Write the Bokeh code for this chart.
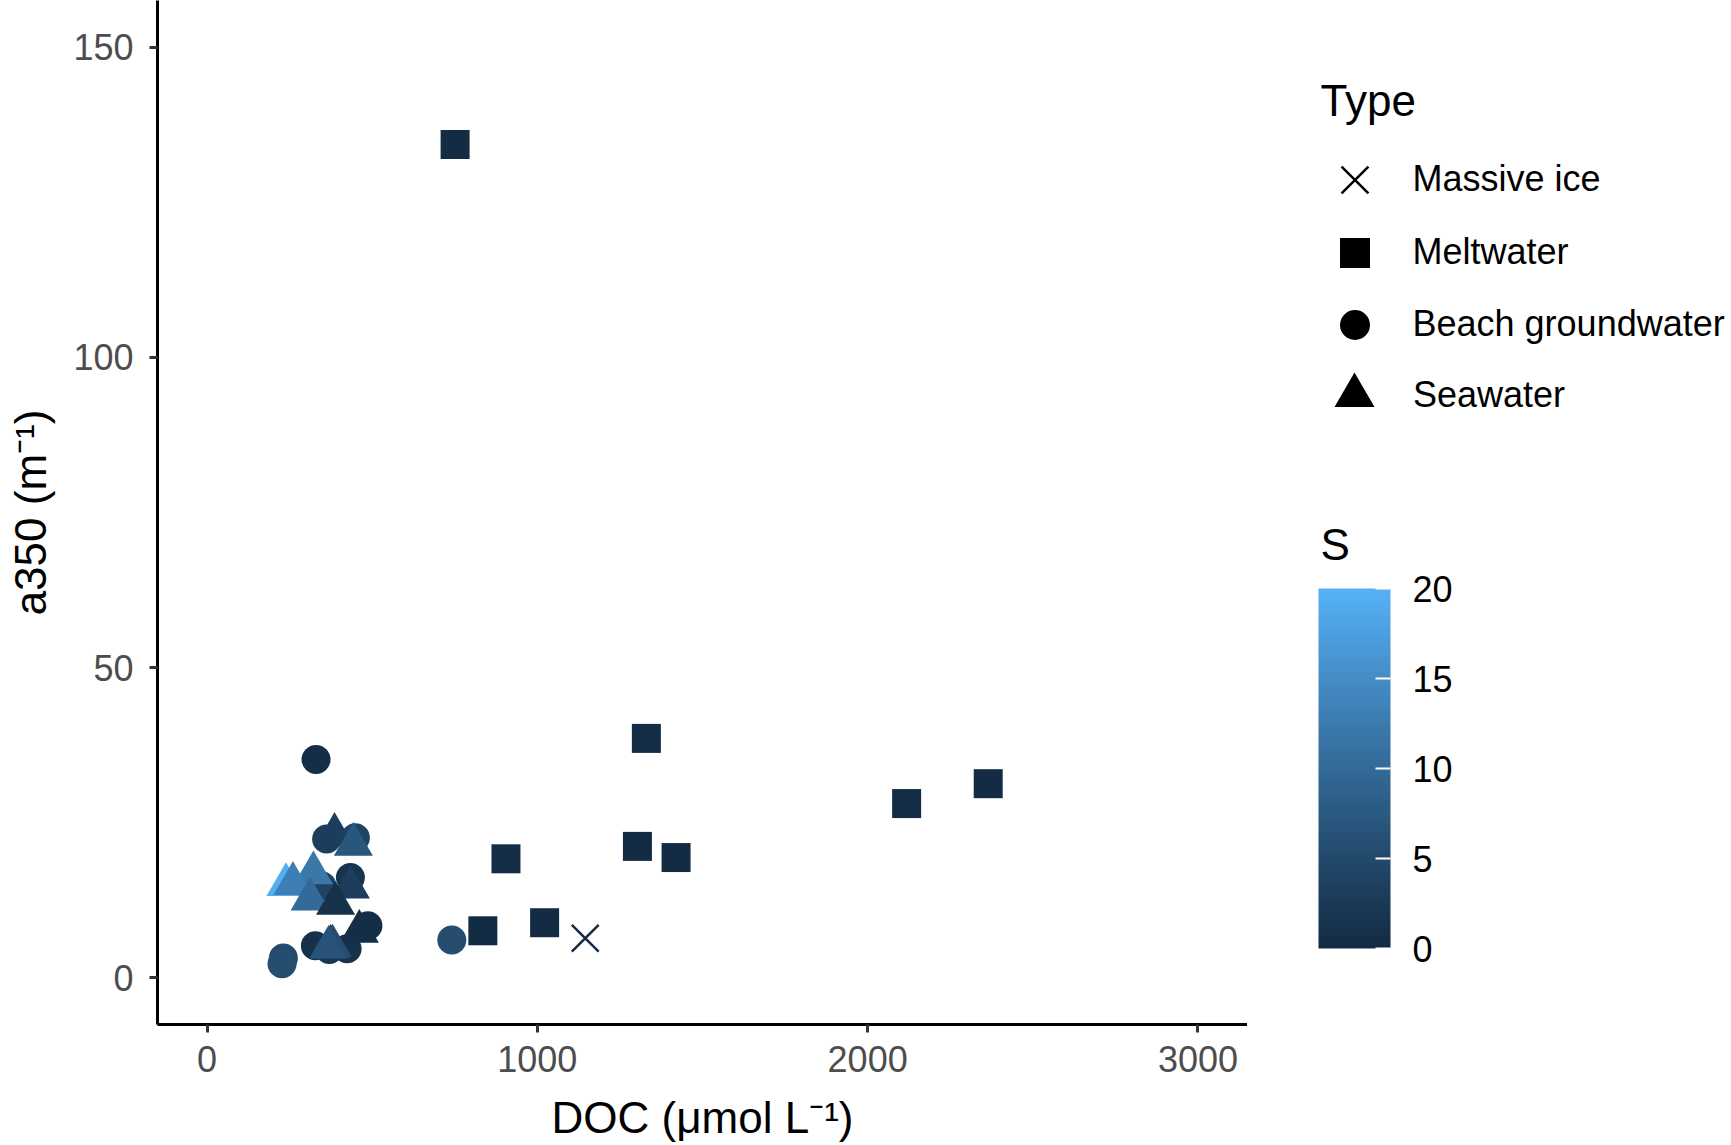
from bokeh.plotting import figure
from bokeh.resources import INLINE
from bokeh.embed import file_html
from bokeh.layouts import row
from bokeh.models import (ColumnDataSource, Range1d, FixedTicker, Legend, LegendItem,
                          ColorBar, LinearColorMapper, Label)

# ---- data ----
ice_doc = [1145]
ice_a350 = [6.4]
ice_s = [0.0]

melt_doc = [751, 1330, 1303, 1420, 905, 835, 1022, 2118, 2365]
melt_a350 = [134.3, 38.6, 21.2, 19.4, 19.2, 7.6, 8.9, 28.1, 31.3]
melt_s = [0.2, 0.3, 0.2, 0.2, 0.3, 0.2, 0.2, 0.3, 0.2]

gw_doc = [330, 741, 231, 227, 362, 449, 348, 434, 487, 328, 424, 370]
gw_a350 = [35.2, 6.1, 3.2, 2.3, 22.4, 22.6, 14.8, 16.2, 8.4, 5.2, 4.7, 4.6]
gw_s = [0.5, 5.5, 5.0, 5.5, 3.0, 4.0, 4.0, 1.5, 0.5, 1.0, 1.0, 2.0]

sw_doc = [386, 443, 322, 239, 260, 434, 312, 389, 461, 374, 380, 368]
sw_a350 = [23.1, 21.5, 16.9, 15.0, 15.2, 14.6, 12.7, 12.0, 7.5, 5.1, 5.1, 4.9]
sw_s = [3.0, 7.0, 12.0, 19.5, 13.0, 3.0, 10.0, 1.0, 0.5, 6.0, 5.5, 6.5]

x_ticks = [0, 1000, 2000, 3000]
y_ticks = [0, 50, 100, 150]
s_ticks = [0, 5, 10, 15, 20]
type_labels = ["Massive ice", "Meltwater", "Beach groundwater", "Seawater"]
type_markers = ["x", "square", "circle", "triangle"]


# ggplot-like gradient #132B43 -> #56B1F7, interpolated in Lab
def _to_lab(h):
    rgb = [int(h[i:i + 2], 16) / 255 for i in (1, 3, 5)]
    lin = [c / 12.92 if c <= 0.04045 else ((c + 0.055) / 1.055) ** 2.4 for c in rgb]
    X = (0.4124 * lin[0] + 0.3576 * lin[1] + 0.1805 * lin[2]) / 0.95047
    Y = 0.2126 * lin[0] + 0.7152 * lin[1] + 0.0722 * lin[2]
    Z = (0.0193 * lin[0] + 0.1192 * lin[1] + 0.9505 * lin[2]) / 1.08883
    f = lambda t: t ** (1 / 3) if t > (6 / 29) ** 3 else t / (3 * (6 / 29) ** 2) + 4 / 29
    return 116 * f(Y) - 16, 500 * (f(X) - f(Y)), 200 * (f(Y) - f(Z))


def _from_lab(L, a, b):
    fy = (L + 16) / 116
    finv = lambda t: t ** 3 if t > 6 / 29 else 3 * (6 / 29) ** 2 * (t - 4 / 29)
    X, Y, Z = finv(fy + a / 500) * 0.95047, finv(fy), finv(fy - b / 200) * 1.08883
    lin = [3.2406 * X - 1.5372 * Y - 0.4986 * Z,
           -0.9689 * X + 1.8758 * Y + 0.0415 * Z,
           0.0557 * X - 0.2040 * Y + 1.0570 * Z]
    out = []
    for c in lin:
        c = 12.92 * c if c <= 0.0031308 else 1.055 * max(c, 0) ** (1 / 2.4) - 0.055
        out.append(min(255, max(0, round(c * 255))))
    return "#%02x%02x%02x" % tuple(out)


lo, hi = _to_lab("#132B43"), _to_lab("#56B1F7")
palette = [_from_lab(*[lo[k] + (hi[k] - lo[k]) * i / 255 for k in range(3)]) for i in range(256)]
mapper = LinearColorMapper(palette=palette, low=0, high=20)
cmap = {"field": "S", "transform": mapper}

FONT = "Liberation Sans"

p = figure(frame_width=1090, frame_height=1024, min_border_left=157, min_border_right=0,
           min_border_top=0, min_border_bottom=121, output_backend="svg",
           toolbar_location=None, x_range=Range1d(-150, 3150), y_range=Range1d(-7.5, 157.5))
p.outline_line_color = None
p.grid.visible = False

p.xaxis.axis_label = "DOC (μmol L⁻¹)"
p.yaxis.axis_label = "a350 (m⁻¹)"
p.xaxis.ticker = FixedTicker(ticks=x_ticks)
p.yaxis.ticker = FixedTicker(ticks=y_ticks)
for ax in (p.xaxis, p.yaxis):
    ax.axis_line_color = "black"
    ax.axis_line_width = 3
    ax.major_tick_line_color = "#333333"
    ax.major_tick_line_width = 3
    ax.major_tick_out = 8
    ax.major_tick_in = 0
    ax.minor_tick_line_color = None
    ax.major_label_text_font = FONT
    ax.major_label_text_font_size = "36px"
    ax.major_label_text_color = "#4D4D4D"
    ax.axis_label_text_font = FONT
    ax.axis_label_text_font_size = "44px"
    ax.axis_label_text_font_style = "normal"
    ax.axis_label_text_color = "black"
p.xaxis.major_label_standoff = 13
p.yaxis.major_label_standoff = 16
p.xaxis.axis_label_standoff = 18
p.yaxis.axis_label_standoff = 15

ice = ColumnDataSource(dict(x=ice_doc, y=ice_a350, S=ice_s))
melt = ColumnDataSource(dict(x=melt_doc, y=melt_a350, S=melt_s))
gw = ColumnDataSource(dict(x=gw_doc, y=gw_a350, S=gw_s))
sw = ColumnDataSource(dict(x=sw_doc, y=sw_a350, S=sw_s))

p.scatter("x", "y", source=ice, marker="x", size=38, line_color=cmap, line_width=2.5)
p.scatter("x", "y", source=melt, marker="square", size=29, fill_color=cmap, line_color=None)
p.scatter("x", "y", source=gw, marker="circle", size=29, fill_color=cmap, line_color=None)
p.scatter("x", "y", source=sw, marker="triangle", size=39, fill_color=cmap, line_color=None)

# side panel holding the keys; in the row its frame lines up with the main frame (1024 px tall)
q = figure(width=484, height=1145, min_border=0, output_backend="svg", toolbar_location=None,
           x_range=Range1d(0, 1), y_range=Range1d(0, 1), x_axis_location=None, y_axis_location=None)
q.grid.visible = False
q.outline_line_color = None

q.add_layout(Label(x=73, y=924, x_units="screen", y_units="screen", text="Type",
                   text_font=FONT, text_font_size="44px", text_color="black",
                   text_baseline="alphabetic"))

# one small legend per shape, so each key can get the size of the reference
nan = float("nan")
key_box = [95, 75, 75, 100]        # legend glyph box; the marker is 0.4 of it
key_mid = [179, 252, 324, 395]     # row centres, px from the top
for lab, mk, g, mid in zip(type_labels, type_markers, key_box, key_mid):
    if mk == "x":
        r = q.scatter([nan], [nan], marker=mk, line_color="black", line_width=2.5)
    else:
        r = q.scatter([nan], [nan], marker=mk, fill_color="black", line_color=None)
    q.add_layout(Legend(items=[LegendItem(label=lab, renderers=[r], index=0)],
                        location=(107 - g / 2, 1024 - mid - g / 2),
                        label_text_font=FONT, label_text_font_size="36px", label_text_color="black",
                        glyph_width=g, glyph_height=g, spacing=0, padding=0, margin=0,
                        label_standoff=int(59 - g / 2), border_line_color=None,
                        background_fill_alpha=0))

cbar = ColorBar(color_mapper=mapper, location=(71, 76), width=72, height=360, padding=0, margin=0,
                major_label_text_font=FONT, major_label_text_font_size="36px",
                major_label_text_color="black", label_standoff=22,
                ticker=FixedTicker(ticks=s_ticks), major_tick_line_color="white",
                major_tick_line_width=2, major_tick_in=15, major_tick_out=0,
                minor_tick_line_color=None, bar_line_color=None, border_line_color=None,
                background_fill_alpha=0)
q.add_layout(cbar)
q.add_layout(Label(x=73, y=480, x_units="screen", y_units="screen", text="S",
                   text_font=FONT, text_font_size="44px", text_color="black",
                   text_baseline="alphabetic"))

open("out.html", "w").write(file_html(row(p, q), INLINE, "a350 vs DOC"))
